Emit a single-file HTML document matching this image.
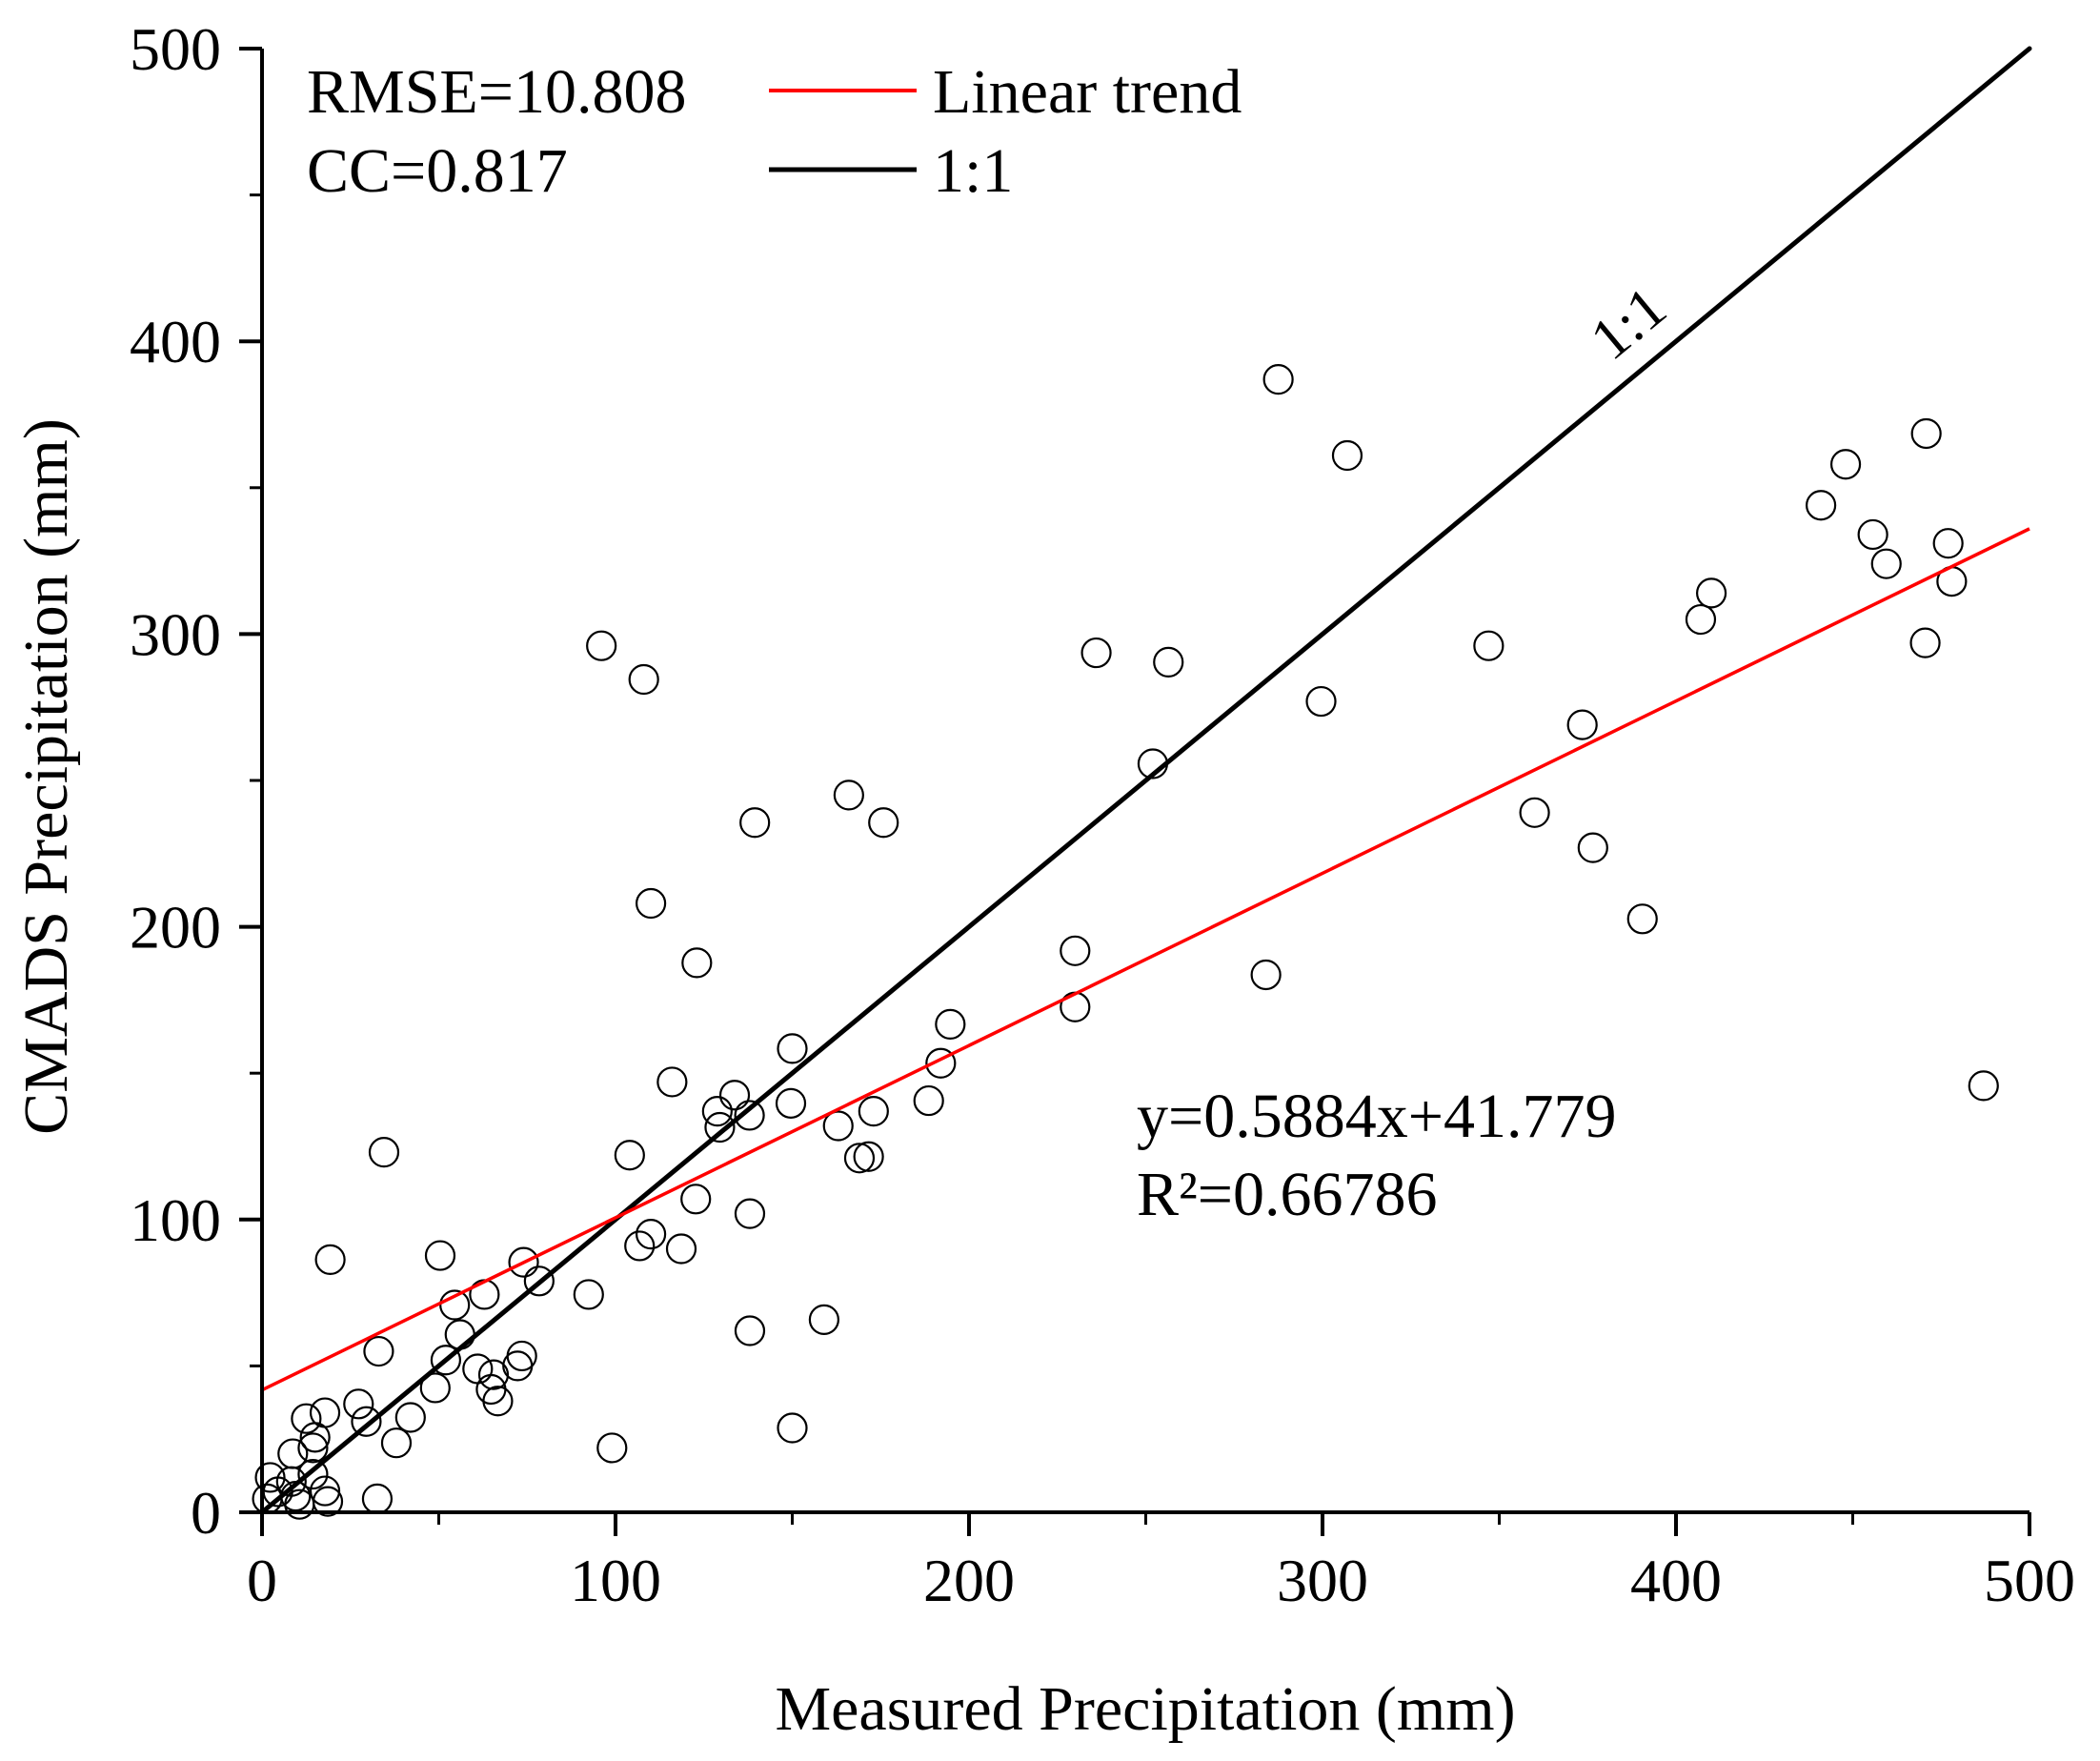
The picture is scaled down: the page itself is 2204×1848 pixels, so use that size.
<!DOCTYPE html>
<html><head><meta charset="utf-8"><style>
html,body{margin:0;padding:0;background:#fff;}
svg{display:block;font-family:"Liberation Serif","Times New Roman",serif;}
</style></head><body>
<svg id="chart" width="2204" height="1848" viewBox="0 0 2204 1848" xmlns="http://www.w3.org/2000/svg"></svg>
<script>
const measured = [287.5,307,470.8,448,441,455.7,477,459.5,478,410,407,470.5,347,96,108,236,256.4,299.6,252,373.5,166,175.8,139.4,360,376.5,110,390.5,123,230,284,230,194.7,150,192,116,487,133.7,188.6,149.6,128.8,137.9,173,129.5,163,169,171.6,104,34.5,122.7,138,110,106.8,118.6,50.4,19.3,74,78.4,92.4,62.9,54.5,56,159,138,33,52,73.5,72.3,61,65.5,64.8,66.7,49,27.3,17.8,12.5,42,29.5,15,38,8.7,14.4,150,99,14.4,8.3,2.3,17.8,32.6,10.6,1.5,18.6,4.5,9.5];
const cmads = [387,361,368.5,358,344,334,331,324,318,314,305,297,296,296,284.5,293.6,290.4,277,255.7,269,245,235.6,235.6,239,227,208,202.7,187.7,191.8,183.6,172.6,166.7,158.4,153.4,147,145.7,142.5,140.6,139.7,137,135.6,137,131.5,132,121,121.5,122,123,107,102,95,91,90,87.7,86.3,85.4,79,74.4,74.4,70.8,60.7,65.8,62,55,52,53.4,50,49,47,42,38,42.5,37,34,32,32.4,31,25.6,23.7,20,22,28.8,22,13,10.5,11.9,7.3,4.6,2.7,4.6,3.7,7,5.5];
const xTicks = [0,100,200,300,400,500];
const yTicks = [0,100,200,300,400,500];
const minorTicks = [50,150,250,350,450];
const slope = 0.5884, intercept = 41.779;

const NS = "http://www.w3.org/2000/svg";
const svg = document.getElementById('chart');
const X0=275, X1=2130, Y0=1587, Y1=51;
const sx = v => X0 + (v/500)*(X1-X0);
const sy = v => Y0 - (v/500)*(Y0-Y1);
function mk(tag, attrs, parent){
  const e=document.createElementNS(NS,tag);
  for(const k in attrs) e.setAttribute(k,attrs[k]);
  (parent||svg).appendChild(e); return e;
}
function txt(s, attrs){ const t=mk('text',attrs); t.textContent=s; return t; }

// points
const pts = mk('g',{});


for(let i=0;i<measured.length;i++){
  const c=mk('circle',{cx:sx(measured[i]),cy:sy(cmads[i]),r:15,fill:'none',stroke:'#000','stroke-width':2.2},pts);
  
  
}
// 1:1 line
const l1=mk('line',{x1:sx(0),y1:sy(0),x2:sx(500),y2:sy(500),stroke:'#000','stroke-width':5,'stroke-linecap':'round'});


// trend line
const tl=mk('line',{x1:sx(0),y1:sy(intercept),x2:sx(500),y2:sy(slope*500+intercept),stroke:'#ff0000','stroke-width':3.5});



// axes
const ax=mk('path',{d:`M${X0},${Y1} L${X0},${Y0} L${X1},${Y0}`,fill:'none',stroke:'#000','stroke-width':4});


xTicks.forEach(v=>{
  mk('line',{x1:sx(v),y1:Y0,x2:sx(v),y2:Y0+25,stroke:'#000','stroke-width':4});
  const t=txt(String(v),{x:sx(v),y:1680,'font-size':64,'text-anchor':'middle'});
  
  
});
yTicks.forEach(v=>{
  mk('line',{x1:X0-24,y1:sy(v),x2:X0,y2:sy(v),stroke:'#000','stroke-width':4});
  const t=txt(String(v),{x:232,y:sy(v)+22,'font-size':64,'text-anchor':'end'});
  
  
});
minorTicks.forEach(v=>{
  mk('line',{x1:sx(v),y1:Y0,x2:sx(v),y2:Y0+13,stroke:'#000','stroke-width':3});
  mk('line',{x1:X0-13,y1:sy(v),x2:X0,y2:sy(v),stroke:'#000','stroke-width':3});
});
// top-right end tick
mk('line',{x1:X1,y1:Y0,x2:X1,y2:Y0+25,stroke:'#000','stroke-width':4});

// titles
const xt=txt('Measured Precipitation (mm)',{x:1202,y:1815,'font-size':66,'text-anchor':'middle'});


const yt=txt('CMADS Precipitation (mm)',{x:0,y:0,'font-size':66,'text-anchor':'middle',transform:'translate(70,815) rotate(-90)'});



// stats
const s1=txt('RMSE=10.808',{x:322,y:118,'font-size':66});


const s2=txt('CC=0.817',{x:322,y:201,'font-size':66});



// legend
const lg1=mk('line',{x1:807,y1:95,x2:962,y2:95,stroke:'#ff0000','stroke-width':4});


const lt1=txt('Linear trend',{x:979,y:118,'font-size':66});


const lg2=mk('line',{x1:807,y1:178,x2:962,y2:178,stroke:'#000','stroke-width':5});


const lt2=txt('1:1',{x:979,y:201,'font-size':66});



// 1:1 annotation
const ang = -Math.atan((Y0-Y1)/(X1-X0))*180/Math.PI;
const an=txt('1:1',{x:0,y:0,'font-size':62,'text-anchor':'middle',transform:`translate(1722,355) rotate(${ang})`});



// equation
const e1=txt('y=0.5884x+41.779',{x:1193,y:1193,'font-size':66});


const e2=txt('R²=0.66786',{x:1193,y:1275,'font-size':66});


</script>
</body></html>
